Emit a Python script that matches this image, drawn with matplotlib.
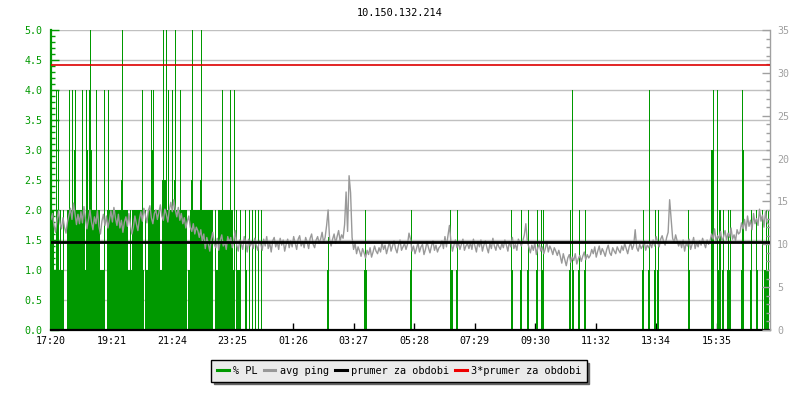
import matplotlib
matplotlib.use("Agg")
import matplotlib.pyplot as plt
from matplotlib.ticker import MultipleLocator, FormatStrFormatter
from matplotlib.lines import Line2D
import numpy as np

# ---------------- data ----------------
title = "10.150.132.214"
x_tick_labels = ["17:20", "19:21", "21:24", "23:25", "01:26", "03:27",
                 "05:28", "07:29", "09:30", "11:32", "13:34", "15:35"]
span_minutes = 1440          # 24 h window
tick_step_minutes = 121.2    # spacing of labelled ticks
ping_step_minutes = 3        # sampling of the avg ping series

# average ping [ms] (right axis), one value every 3 minutes, 20 per hour
ping_ms = [
    12.9, 13.6, 12.2, 11.4, 12.8, 13.9, 12.5, 11.8, 13.1, 12.0, 11.3, 12.6, 13.4, 14.2, 12.9, 14.8, 13.6, 12.3, 13.5, 12.4,
    13.8, 12.5, 14.4, 13.0, 11.8, 12.9, 14.0, 12.6, 11.7, 13.2, 12.4, 13.9, 12.1, 11.2, 12.7, 13.5, 12.2, 13.3, 11.9, 12.8,
    13.9, 12.6, 14.3, 13.1, 12.2, 13.5, 11.9, 12.8, 11.4, 12.6, 13.2, 12.1, 13.6, 12.3, 11.2, 12.0, 13.3, 12.4, 11.6, 12.9,
    13.8, 12.7, 14.2, 13.4, 12.5, 13.9, 14.5, 13.1, 12.4, 13.6, 14.0, 12.9, 13.7, 14.6, 13.3, 12.8, 14.1, 13.5, 12.6, 14.0,
    14.9, 13.8, 15.2, 14.0, 13.2, 14.3, 12.8, 13.6, 12.4, 13.1, 11.9, 12.7, 13.3, 12.0, 11.5, 12.4, 11.2, 12.0, 11.6, 10.8,
    11.7, 10.4, 11.2, 9.5, 10.8, 10.1, 9.2, 10.6, 11.4, 10.0, 9.6, 10.7, 9.3, 10.5, 11.1, 9.8, 10.3, 9.4, 10.9, 10.2,
    10.8, 9.6, 10.4, 11.6, 9.9, 9.2, 10.5, 10.0, 9.4, 10.9, 10.2, 9.1, 10.6, 9.8, 10.3, 9.5, 10.7, 9.9, 9.3, 10.4,
    10.1, 9.3, 10.6, 9.8, 10.9, 9.5, 10.2, 9.1, 10.4, 10.8, 9.7, 10.3, 9.4, 10.7, 9.9, 10.5, 9.2, 10.0, 10.6, 9.6,
    10.4, 9.7, 10.9, 10.1, 9.4, 10.6, 11.0, 9.8, 10.3, 9.6, 10.8, 10.2, 9.5, 10.7, 11.2, 10.0, 9.6, 10.5, 10.9, 10.1,
    10.6, 11.4, 10.2, 10.8, 12.2, 14.0, 10.5, 9.8, 10.6, 11.2, 10.1, 10.9, 11.6, 10.4, 11.1, 10.7, 12.3, 16.1, 11.5, 18.0,
    16.0, 10.8, 9.4, 10.1, 8.9, 9.7, 9.2, 8.6, 9.5, 9.0, 8.4, 9.3, 8.8, 9.6, 8.5, 9.1, 9.8, 9.2, 8.9, 9.6,
    9.1, 10.2, 9.4, 9.9, 8.9, 9.6, 10.3, 9.2, 9.8, 10.4, 9.5, 9.0, 9.9, 10.5, 9.3, 9.7, 10.1, 9.4, 10.0, 11.3,
    10.6, 9.2, 9.8, 8.9, 9.5, 10.2, 9.1, 9.7, 10.0, 8.8, 9.4, 10.3, 9.6, 9.0, 9.8, 10.4, 9.3, 9.9, 9.1, 9.6,
    9.8, 10.4, 9.5, 10.9, 9.7, 11.0, 12.2, 10.3, 9.2, 9.9, 10.5, 9.6, 10.2, 9.4, 10.0, 10.6, 9.3, 9.8, 10.1, 9.5,
    10.2, 9.4, 10.6, 9.8, 9.1, 10.3, 9.7, 10.5, 9.2, 9.9, 10.4, 9.6, 9.0, 10.1, 9.5, 10.7, 9.8, 9.3, 10.2, 9.7,
    9.4, 10.1, 9.6, 10.5, 9.9, 9.2, 10.3, 9.7, 10.8, 9.5, 10.0, 9.3, 10.6, 10.2, 9.8, 10.4, 11.1, 12.4, 10.3, 9.7,
    9.0, 9.9, 9.3, 10.2, 8.8, 9.6, 10.0, 9.2, 9.7, 8.9, 9.5, 10.3, 9.1, 9.8, 9.4, 8.8, 9.6, 9.2, 8.7, 9.3,
    8.6, 7.8, 8.9, 8.2, 7.5, 8.4, 8.8, 7.9, 8.5, 8.1, 8.9, 7.7, 8.3, 8.7, 8.0, 8.6, 9.1, 8.2, 8.8, 8.4,
    8.7, 9.4, 8.9, 9.7, 8.5, 9.2, 9.8, 8.8, 9.5, 9.1, 8.6, 9.4, 9.9, 9.0, 8.7, 9.6, 9.2, 8.9, 9.7, 9.3,
    9.0, 9.8, 9.3, 10.1, 9.5, 8.9, 9.7, 10.2, 9.4, 9.9, 11.7, 9.6, 9.2, 10.0, 9.5, 9.8, 10.4, 9.3, 9.9, 9.6,
    10.1, 9.6, 10.5, 9.8, 10.9, 10.2, 9.7, 10.6, 11.0, 10.3, 9.9, 10.8, 11.4, 15.2, 13.0, 10.7, 10.2, 11.1, 10.4, 9.8,
    10.3, 9.6, 10.5, 9.2, 10.1, 9.8, 10.6, 9.4, 10.0, 10.8, 9.5, 10.2, 9.7, 10.4, 9.9, 10.7, 10.1, 9.6, 10.5, 10.0,
    10.4, 11.2, 10.6, 11.8, 10.3, 11.0, 10.7, 11.5, 10.2, 10.9, 11.6, 10.5, 11.3, 10.8, 11.9, 10.6, 11.1, 10.4, 11.7, 11.2,
    11.4, 12.5, 11.8, 12.9, 11.6, 13.3, 12.1, 12.8, 11.7, 13.6, 12.4, 13.0, 12.2, 14.1, 12.7, 13.4, 12.0, 13.8, 12.6, 12.3,
]
mean_ping_ms = 10.3          # "prumer za obdobi"

# packet loss [%] (left axis) as (start minute, end minute, value)
pl_bars = [
    # evening: dense loss, level 1
    (0, 24, 1), (32, 66, 1), (68, 84, 1), (86, 108, 1), (112, 137, 1),
    (141, 164, 1), (172, 187, 1), (191, 198, 1), (200, 251, 1),
    (253, 271, 1), (275, 288, 1), (290, 321, 1), (330, 366, 1),
    (372, 381, 1), (388, 392, 1),
    # level 2 blocks
    (0, 6, 2), (32, 68, 2), (74, 98, 2), (112, 154, 2), (162, 184, 2),
    (194, 218, 2), (228, 272, 2), (282, 324, 2), (334, 364, 2),
    # single samples at 2
    (12, 14, 2), (18, 20, 2), (24, 26, 2), (106, 108, 2), (158, 160, 2),
    (188, 190, 2), (222, 224, 2), (278, 280, 2), (328, 330, 2),
    (370, 372, 2), (378, 380, 2), (388, 390, 2), (396, 398, 2),
    (402, 404, 2), (408, 410, 2), (414, 416, 2), (420, 422, 2),
    # 2.5
    (140, 143, 2.5), (222, 225, 2.5), (227, 230, 2.5), (246, 249, 2.5),
    (280, 283, 2.5), (298, 301, 2.5),
    # 3
    (46, 49, 3), (71, 74, 3), (76, 82, 3), (200, 206, 3),
    # 4
    (10, 12, 4), (15, 17, 4), (37, 39, 4), (43, 45, 4), (49, 51, 4),
    (63, 65, 4), (71, 73, 4), (77, 81, 4), (91, 93, 4), (107, 109, 4),
    (115, 117, 4), (183, 185, 4), (200, 202, 4), (204, 206, 4),
    (235, 237, 4), (243, 245, 4), (259, 261, 4), (343, 345, 4),
    (359, 361, 4), (367, 369, 4),
    # >= 5
    (79, 81, 5.5), (143, 145, 5.5), (225, 227, 5.5), (231, 233, 5.5),
    (249, 251, 5.5), (283, 285, 5.5), (301, 303, 5.5),
    # night / day: isolated losses
    (553, 556, 1), (554, 556, 1.55),
    (626, 632, 1), (628, 630, 2),
    (719, 723, 1), (721, 723, 2),
    (800, 806, 1), (800, 802, 2),
    (812, 816, 1), (813, 816, 2),
    (922, 926, 1), (922, 924, 2),
    (940, 944, 1), (942, 944, 2),
    (954, 958, 1), (955, 957, 2),
    (972, 976, 1), (973, 975, 2),
    (982, 988, 1), (982, 984, 2), (986, 988, 2),
    (1038, 1042, 1), (1039, 1041, 2),
    (1044, 1048, 1), (1044, 1046, 4),
    (1056, 1060, 1), (1058, 1060, 2),
    (1068, 1072, 1), (1069, 1071, 2),
    (1184, 1188, 1), (1186, 1188, 2),
    (1196, 1200, 1), (1197, 1199, 4),
    (1208, 1212, 1), (1210, 1212, 2),
    (1214, 1218, 1), (1215, 1217, 2),
    (1275, 1279, 1), (1276, 1278, 2),
    (1322, 1328, 1), (1322, 1326, 3), (1326, 1328, 4),
    (1334, 1342, 1), (1334, 1336, 4), (1338, 1342, 2),
    (1344, 1348, 1), (1346, 1348, 2),
    (1354, 1362, 1), (1356, 1358, 2), (1360, 1362, 2),
    (1382, 1388, 1), (1384, 1388, 3), (1384, 1386, 4),
    (1400, 1404, 1), (1401, 1403, 2),
    (1411, 1415, 1), (1412, 1414, 2),
    (1423, 1425, 2), (1428, 1438, 1), (1431, 1433, 2), (1435, 1437, 2),
]

legend_labels = ["% PL", "avg ping", "prumer za obdobi", "3*prumer za obdobi"]

# ---------------- style ----------------
GREEN = "#009900"
GRAY = "#999999"
GRID = "#c0c0c0"
plt.rcParams["font.family"] = ["DejaVu Sans Mono", "DejaVu Sans"]

fig = plt.figure(figsize=(8, 4), dpi=100)
ax = fig.add_axes([51 / 800, 70 / 400, 719 / 800, 300 / 400])
ax2 = ax.twinx()

# packet loss bars (left axis)
starts = np.array([b[0] for b in pl_bars], dtype=float)
ends = np.array([b[1] for b in pl_bars], dtype=float)
vals = np.array([b[2] for b in pl_bars], dtype=float)
ax.bar(starts, vals, width=ends - starts, align="edge", color=GREEN,
       linewidth=0, antialiased=False, zorder=2)

# ping (right axis)
t = np.arange(len(ping_ms)) * ping_step_minutes
ax2.plot(t, ping_ms, color=GRAY, lw=1.0, zorder=3)
ax2.axhline(mean_ping_ms, color="black", lw=2.0, zorder=4)
ax2.axhline(3 * mean_ping_ms, color="#dd0000", lw=1.2, zorder=4)

ax.set_xlim(0, span_minutes)
ax.set_ylim(0, 5)
ax2.set_ylim(0, 35)

# grid
ax.set_axisbelow(True)
ax.yaxis.set_major_locator(MultipleLocator(0.5))
ax.yaxis.set_minor_locator(MultipleLocator(0.1))
ax.yaxis.grid(True, which="major", color=GRID, lw=1.0)
ax.yaxis.set_major_formatter(FormatStrFormatter("%.1f"))

ax2.yaxis.set_major_locator(MultipleLocator(5))
ax2.yaxis.set_minor_locator(MultipleLocator(1))

ax.set_xticks(np.arange(len(x_tick_labels)) * tick_step_minutes)
ax.set_xticklabels(x_tick_labels)

ax.tick_params(axis="x", direction="in", length=5, width=1, color="black",
               labelsize=7.2, pad=4, labelcolor="black")
ax.tick_params(axis="y", which="major", direction="in", length=6, width=1,
               color=GREEN, labelcolor=GREEN, labelsize=7.2, pad=6)
ax.tick_params(axis="y", which="minor", direction="in", length=3, width=1,
               color=GREEN)
ax2.tick_params(axis="y", which="major", direction="in", length=6, width=1,
                color="#a0a0a0", labelcolor="#a0a0a0", labelsize=7.2, pad=5)
ax2.tick_params(axis="y", which="minor", direction="in", length=3, width=1,
                color="#a0a0a0")

for a in (ax, ax2):
    a.spines["top"].set_visible(False)
ax.spines["left"].set_color(GREEN)
ax.spines["left"].set_linewidth(1.6)
ax.spines["bottom"].set_color("black")
ax.spines["bottom"].set_linewidth(1.6)
ax.spines["right"].set_visible(False)
ax2.spines["left"].set_visible(False)
ax2.spines["bottom"].set_visible(False)
ax2.spines["right"].set_color("#a0a0a0")
ax2.spines["right"].set_linewidth(1.0)

fig.text(0.5, 1 - 13 / 400, title, ha="center", va="center",
         fontsize=7.4, color="black")

# legend
handles = [Line2D([], [], color=GREEN, lw=2.2),
           Line2D([], [], color=GRAY, lw=2.2),
           Line2D([], [], color="black", lw=2.2),
           Line2D([], [], color="#ee0000", lw=2.2)]
leg = fig.legend(handles, legend_labels, loc="center",
                 bbox_to_anchor=(399 / 800, 1 - 371 / 400), ncol=4,
                 fontsize=7.4, frameon=True, fancybox=False,
                 shadow={"color": "#666666", "alpha": 1.0},
                 handlelength=1.15, handletextpad=0.4, columnspacing=0.6,
                 borderpad=0.55, borderaxespad=0)
leg.get_frame().set_facecolor("#ebebeb")
leg.get_frame().set_edgecolor("black")
leg.get_frame().set_linewidth(1.0)
leg.get_frame().set_alpha(1.0)

fig.savefig("out.png", dpi=100)
